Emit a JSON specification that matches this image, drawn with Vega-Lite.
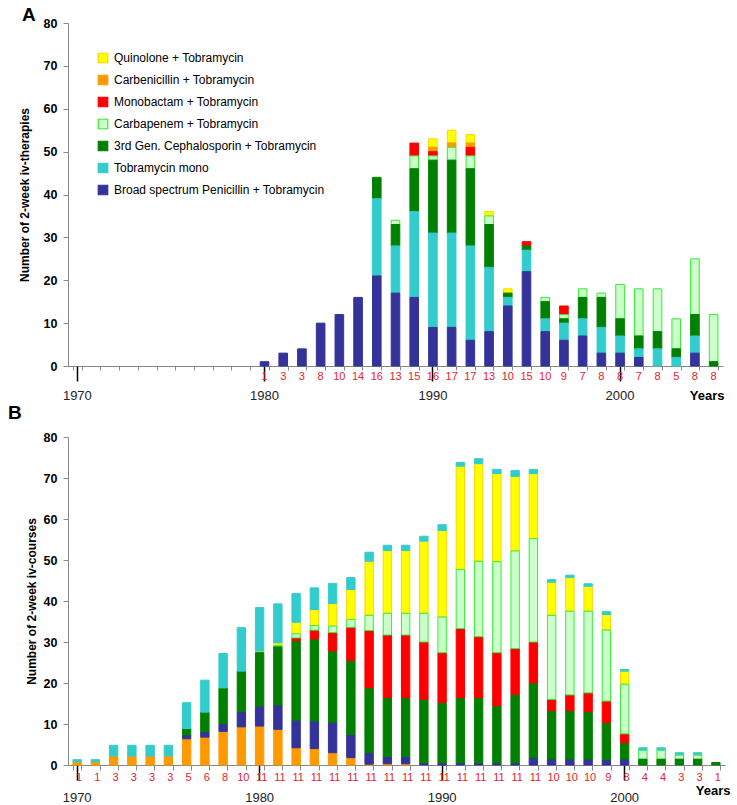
{
  "$schema": "https://vega.github.io/schema/vega-lite/v6.json",
  "padding": {"left": 8, "top": 6, "right": 4, "bottom": 0},
  "background": "white",
  "config": {
    "font": "Liberation Sans",
    "view": {"stroke": null},
    "axis": {"grid": false}
  },
  "datasets": {
    "drugs": [
      {"k": "Q", "drug": "Quinolone + Tobramycin"},
      {"k": "C", "drug": "Carbenicillin + Tobramycin"},
      {"k": "M", "drug": "Monobactam + Tobramycin"},
      {"k": "P", "drug": "Carbapenem + Tobramycin"},
      {"k": "G", "drug": "3rd Gen. Cephalosporin + Tobramycin"},
      {"k": "T", "drug": "Tobramycin mono"},
      {"k": "B", "drug": "Broad spectrum Penicillin + Tobramycin"}
    ],
    "a": [
      {"year": 1980, "pts": 1, "B": 1},
      {"year": 1981, "pts": 3, "B": 3},
      {"year": 1982, "pts": 3, "B": 4},
      {"year": 1983, "pts": 8, "B": 10},
      {"year": 1984, "pts": 10, "B": 12},
      {"year": 1985, "pts": 14, "B": 16},
      {"year": 1986, "pts": 16, "B": 21, "T": 18, "G": 5},
      {"year": 1987, "pts": 13, "B": 17, "T": 11, "G": 5, "P": 1},
      {"year": 1988, "pts": 15, "B": 16, "T": 20, "G": 10, "P": 3, "M": 3},
      {"year": 1989, "pts": 16, "B": 9, "T": 22, "G": 17, "P": 1, "M": 1, "C": 1, "Q": 2},
      {"year": 1990, "pts": 17, "B": 9, "T": 22, "G": 17, "P": 3, "C": 1, "Q": 3},
      {"year": 1991, "pts": 17, "B": 6, "T": 22, "G": 18, "P": 3, "M": 2, "C": 1, "Q": 2},
      {"year": 1992, "pts": 13, "B": 8, "T": 15, "G": 10, "P": 2, "Q": 1},
      {"year": 1993, "pts": 10, "B": 14, "T": 2, "G": 1, "Q": 1},
      {"year": 1994, "pts": 15, "B": 22, "T": 5, "G": 1, "M": 1},
      {"year": 1995, "pts": 10, "B": 8, "T": 3, "G": 4, "P": 1},
      {"year": 1996, "pts": 9, "B": 6, "T": 4, "G": 1, "P": 1, "M": 2},
      {"year": 1997, "pts": 7, "B": 7, "T": 4, "G": 5, "P": 2},
      {"year": 1998, "pts": 8, "B": 3, "T": 6, "G": 7, "P": 1},
      {"year": 1999, "pts": 8, "B": 3, "T": 4, "G": 4, "P": 8},
      {"year": 2000, "pts": 7, "B": 2, "T": 2, "G": 3, "P": 11},
      {"year": 2001, "pts": 8, "T": 4, "G": 4, "P": 10},
      {"year": 2002, "pts": 5, "T": 2, "G": 2, "P": 7},
      {"year": 2003, "pts": 8, "B": 3, "T": 4, "G": 5, "P": 13},
      {"year": 2004, "pts": 8, "G": 1, "P": 11}
    ],
    "b": [
      {"year": 1970, "pts": 1, "C": 0.8, "T": 0.5},
      {"year": 1971, "pts": 1, "C": 0.8, "T": 0.5},
      {"year": 1972, "pts": 3, "C": 2.2, "T": 2.6},
      {"year": 1973, "pts": 3, "C": 2.2, "T": 2.6},
      {"year": 1974, "pts": 3, "C": 2.2, "T": 2.6},
      {"year": 1975, "pts": 3, "C": 2.2, "T": 2.6},
      {"year": 1976, "pts": 5, "C": 6.4, "B": 0.7, "G": 1.8, "T": 6.3},
      {"year": 1977, "pts": 6, "C": 6.8, "B": 1.1, "G": 5.0, "T": 7.8},
      {"year": 1978, "pts": 8, "C": 8.2, "B": 1.7, "G": 8.9, "T": 8.4},
      {"year": 1979, "pts": 10, "C": 9.3, "B": 3.5, "G": 10.1, "T": 10.6},
      {"year": 1980, "pts": 11, "C": 9.5, "B": 4.6, "G": 13.3, "Q": 0.4, "T": 10.6},
      {"year": 1981, "pts": 11, "C": 8.7, "B": 5.7, "G": 14.4, "P": 0.3, "Q": 0.7, "T": 9.5},
      {"year": 1982, "pts": 11, "C": 4.2, "B": 6.5, "G": 19.4, "M": 0.9, "P": 1.0, "Q": 2.8, "T": 7.0},
      {"year": 1983, "pts": 11, "C": 4.0, "B": 6.5, "G": 20.0, "M": 2.4, "P": 1.1, "Q": 3.9, "T": 5.3},
      {"year": 1984, "pts": 11, "C": 3.0, "B": 7.2, "G": 17.4, "M": 4.7, "P": 1.6, "Q": 5.5, "T": 4.9},
      {"year": 1985, "pts": 11, "C": 1.8, "B": 5.4, "G": 18.1, "M": 8.3, "P": 1.9, "Q": 7.3, "T": 2.9},
      {"year": 1986, "pts": 11, "C": 0.2, "B": 2.6, "G": 15.8, "M": 14.2, "P": 3.7, "Q": 13.2, "T": 2.2},
      {"year": 1987, "pts": 11, "C": 0.3, "B": 1.5, "G": 14.4, "M": 15.5, "P": 5.3, "Q": 15.3, "T": 1.3},
      {"year": 1988, "pts": 11, "C": 0.3, "B": 1.5, "G": 14.4, "M": 15.5, "P": 5.3, "Q": 15.3, "T": 1.3},
      {"year": 1989, "pts": 11, "B": 0.3, "G": 15.5, "M": 14.2, "P": 7.0, "Q": 17.6, "T": 1.2},
      {"year": 1990, "pts": 11, "B": 0.3, "G": 14.7, "M": 12.4, "P": 8.7, "Q": 21.1, "T": 1.4},
      {"year": 1991, "pts": 11, "B": 0.3, "G": 15.9, "M": 17.1, "P": 14.4, "Q": 25.2, "T": 0.9},
      {"year": 1992, "pts": 11, "B": 0.3, "G": 15.9, "M": 15.1, "P": 18.4, "Q": 23.8, "T": 1.2},
      {"year": 1993, "pts": 11, "B": 0.3, "G": 13.9, "M": 13.2, "P": 22.2, "Q": 21.5, "T": 1.0},
      {"year": 1994, "pts": 11, "B": 0.3, "G": 16.7, "M": 11.4, "P": 23.8, "Q": 18.2, "T": 1.4},
      {"year": 1995, "pts": 11, "B": 1.6, "G": 18.2, "M": 10.2, "P": 25.2, "Q": 15.9, "T": 1.0},
      {"year": 1996, "pts": 10, "B": 1.2, "G": 11.8, "M": 3.0, "P": 20.5, "Q": 8.1, "T": 0.6},
      {"year": 1997, "pts": 10, "B": 1.2, "G": 11.8, "M": 4.1, "P": 20.4, "Q": 8.2, "T": 0.6},
      {"year": 1998, "pts": 10, "B": 1.2, "G": 11.6, "M": 4.8, "P": 19.9, "Q": 6.1, "T": 0.6},
      {"year": 1999, "pts": 9, "B": 1.1, "G": 9.0, "M": 5.5, "P": 17.3, "Q": 3.8, "T": 0.7},
      {"year": 2000, "pts": 8, "B": 1.2, "G": 4.0, "M": 2.4, "P": 12.1, "Q": 3.2, "T": 0.4},
      {"year": 2001, "pts": 4, "G": 1.4, "P": 2.2, "Q": 0.1, "T": 0.5},
      {"year": 2002, "pts": 4, "G": 1.4, "P": 2.2, "Q": 0.1, "T": 0.5},
      {"year": 2003, "pts": 3, "G": 1.4, "P": 1.0, "Q": 0.2, "T": 0.4},
      {"year": 2004, "pts": 3, "G": 1.4, "P": 1.0, "Q": 0.2, "T": 0.4},
      {"year": 2005, "pts": 1, "G": 0.6}
    ]
  },
  "spacing": 2,
  "align": "none",
  "resolve": {
    "scale": {"x": "independent", "y": "independent", "fill": "independent", "stroke": "independent"},
    "legend": {"fill": "independent", "stroke": "independent"}
  },
  "vconcat": [
    {
      "title": {"text": "A", "anchor": "start", "frame": "bounds", "fontSize": 19, "fontWeight": "bold", "color": "#000", "offset": -8, "dx": 4},
      "width": 655,
      "height": 343,
      "data": {"name": "a"},
      "layer": [
        {
          "transform": [
            {"fold": ["Q", "C", "M", "P", "G", "T", "B"], "as": ["k", "n"]},
            {"filter": "isValid(datum.n)"},
            {"lookup": "k", "from": {"data": {"name": "drugs"}, "key": "k", "fields": ["drug"]}},
            {"calculate": "indexof(['B','T','G','P','M','C','Q'], datum.k)", "as": "o"}
          ],
          "mark": {"type": "bar", "strokeWidth": 1},
          "encoding": {
            "x": {
              "field": "year", "type": "ordinal",
              "scale": {"domain": [1970,1971,1972,1973,1974,1975,1976,1977,1978,1979,1980,1981,1982,1983,1984,1985,1986,1987,1988,1989,1990,1991,1992,1993,1994,1995,1996,1997,1998,1999,2000,2001,2002,2003,2004], "paddingInner": 0.54, "paddingOuter": 0.27},
              "axis": {"orient": "bottom", "title": null, "labels": false, "tickBand": "extent", "tickSize": 4, "tickColor": "#888", "domainColor": "#888"}
            },
            "y": {
              "field": "n", "type": "quantitative", "stack": "zero",
              "scale": {"domain": [0, 80], "nice": false},
              "axis": {"title": "Number of 2-week iv-therapies", "values": [0,10,20,30,40,50,60,70,80], "labelFontWeight": "bold", "labelFontSize": 12.5, "labelColor": "#000", "labelPadding": 6, "tickSize": 5, "tickColor": "#888", "domainColor": "#888", "titleFontSize": 12, "titleFontWeight": "bold", "titleColor": "#000", "titlePadding": 12}
            },
            "fill": {
              "field": "drug", "type": "nominal",
              "scale": {"domain": ["Quinolone + Tobramycin", "Carbenicillin + Tobramycin", "Monobactam + Tobramycin", "Carbapenem + Tobramycin", "3rd Gen. Cephalosporin + Tobramycin", "Tobramycin mono", "Broad spectrum Penicillin + Tobramycin"], "range": ["#ffff00", "#ff9900", "#ff0000", "#ccffcc", "#008000", "#33cccc", "#333399"]},
              "legend": {"title": null, "orient": "top-left", "offset": 29, "symbolType": "square", "symbolSize": 90, "symbolStrokeWidth": 1.2, "labelFontSize": 12, "labelColor": "#000", "labelLimit": 0, "rowPadding": 6, "labelOffset": 5}
            },
            "stroke": {
              "field": "drug", "type": "nominal",
              "scale": {"domain": ["Quinolone + Tobramycin", "Carbenicillin + Tobramycin", "Monobactam + Tobramycin", "Carbapenem + Tobramycin", "3rd Gen. Cephalosporin + Tobramycin", "Tobramycin mono", "Broad spectrum Penicillin + Tobramycin"], "range": ["#ffd400", "#ff9900", "#ff0000", "#33ee33", "#008000", "#33cccc", "#333399"]},
              "legend": {"title": null, "orient": "top-left", "offset": 29, "symbolType": "square", "symbolSize": 90, "symbolStrokeWidth": 1.2, "labelFontSize": 12, "labelColor": "#000", "labelLimit": 0, "rowPadding": 6, "labelOffset": 5}
            },
            "order": {"field": "o", "type": "quantitative", "sort": "ascending"}
          }
        },
        {
          "mark": {"type": "text", "color": "#e8222a", "fontSize": 11, "dy": 11, "baseline": "middle"},
          "encoding": {
            "x": {
              "field": "year", "type": "ordinal",
              "scale": {"domain": [1970,1971,1972,1973,1974,1975,1976,1977,1978,1979,1980,1981,1982,1983,1984,1985,1986,1987,1988,1989,1990,1991,1992,1993,1994,1995,1996,1997,1998,1999,2000,2001,2002,2003,2004], "paddingInner": 0.54, "paddingOuter": 0.27},
              "axis": {"orient": "bottom", "values": [1970, 1980, 1989, 1999], "labelExpr": "datum.value == 1989 ? '1990' : datum.value == 1999 ? '2000' : datum.label", "labelAngle": 0, "tickSize": 15, "tickWidth": 1.5, "tickColor": "#000", "domain": false, "labelFontSize": 13, "labelColor": "#222", "labelPadding": 8, "title": "Years", "titleFontSize": 13, "titleFontWeight": "bold", "titleColor": "#000", "titleAnchor": "end", "titleAlign": "right", "titleBaseline": "middle", "titleX": 656, "titleY": 29}
            },
            "y": {"datum": 0},
            "text": {"field": "pts", "type": "quantitative"}
          }
        }
      ],
      "resolve": {"axis": {"x": "independent"}}
    },
    {
      "title": {"text": "B", "anchor": "start", "frame": "bounds", "fontSize": 19, "fontWeight": "bold", "color": "#000", "offset": 8, "dx": -17},
      "width": 657,
      "height": 328,
      "data": {"name": "b"},
      "layer": [
        {
          "transform": [
            {"fold": ["Q", "C", "M", "P", "G", "T", "B"], "as": ["k", "n"]},
            {"filter": "isValid(datum.n)"},
            {"lookup": "k", "from": {"data": {"name": "drugs"}, "key": "k", "fields": ["drug"]}},
            {"calculate": "indexof(['C','B','G','M','P','Q','T'], datum.k)", "as": "o"}
          ],
          "mark": {"type": "bar", "strokeWidth": 1},
          "encoding": {
            "x": {
              "field": "year", "type": "ordinal",
              "scale": {"domain": [1970,1971,1972,1973,1974,1975,1976,1977,1978,1979,1980,1981,1982,1983,1984,1985,1986,1987,1988,1989,1990,1991,1992,1993,1994,1995,1996,1997,1998,1999,2000,2001,2002,2003,2004,2005], "paddingInner": 0.54, "paddingOuter": 0.27},
              "axis": {"orient": "bottom", "title": null, "labels": false, "tickBand": "extent", "tickSize": 5, "tickColor": "#888", "domainColor": "#888"}
            },
            "y": {
              "field": "n", "type": "quantitative", "stack": "zero",
              "scale": {"domain": [0, 80], "nice": false},
              "axis": {"title": "Number of 2-week  iv-courses", "values": [0,10,20,30,40,50,60,70,80], "labelFontWeight": "bold", "labelFontSize": 12.5, "labelColor": "#000", "labelPadding": 6, "tickSize": 5, "tickColor": "#888", "domainColor": "#888", "titleFontSize": 12, "titleFontWeight": "bold", "titleColor": "#000", "titlePadding": 5}
            },
            "fill": {
              "field": "drug", "type": "nominal",
              "scale": {"domain": ["Quinolone + Tobramycin", "Carbenicillin + Tobramycin", "Monobactam + Tobramycin", "Carbapenem + Tobramycin", "3rd Gen. Cephalosporin + Tobramycin", "Tobramycin mono", "Broad spectrum Penicillin + Tobramycin"], "range": ["#ffff00", "#ff9900", "#ff0000", "#ccffcc", "#008000", "#33cccc", "#333399"]},
              "legend": null
            },
            "stroke": {
              "field": "drug", "type": "nominal",
              "scale": {"domain": ["Quinolone + Tobramycin", "Carbenicillin + Tobramycin", "Monobactam + Tobramycin", "Carbapenem + Tobramycin", "3rd Gen. Cephalosporin + Tobramycin", "Tobramycin mono", "Broad spectrum Penicillin + Tobramycin"], "range": ["#ffd400", "#ff9900", "#ff0000", "#33ee33", "#008000", "#33cccc", "#333399"]},
              "legend": null
            },
            "order": {"field": "o", "type": "quantitative", "sort": "ascending"}
          }
        },
        {
          "mark": {"type": "text", "color": "#e8222a", "fontSize": 11, "dy": 13, "dx": 2, "baseline": "middle"},
          "encoding": {
            "x": {
              "field": "year", "type": "ordinal",
              "scale": {"domain": [1970,1971,1972,1973,1974,1975,1976,1977,1978,1979,1980,1981,1982,1983,1984,1985,1986,1987,1988,1989,1990,1991,1992,1993,1994,1995,1996,1997,1998,1999,2000,2001,2002,2003,2004,2005], "paddingInner": 0.54, "paddingOuter": 0.27},
              "axis": {"orient": "bottom", "values": [1970, 1980, 1990, 2000], "labelAngle": 0, "tickSize": 15, "tickWidth": 1.5, "tickColor": "#000", "domain": false, "labelFontSize": 13, "labelColor": "#222", "labelPadding": 11, "title": "Years", "titleFontSize": 13, "titleFontWeight": "bold", "titleColor": "#000", "titleAnchor": "end", "titleAlign": "right", "titleBaseline": "middle", "titleX": 662, "titleY": 25}
            },
            "y": {"datum": 0},
            "text": {"field": "pts", "type": "quantitative"}
          }
        }
      ],
      "resolve": {"axis": {"x": "independent"}}
    }
  ]
}
